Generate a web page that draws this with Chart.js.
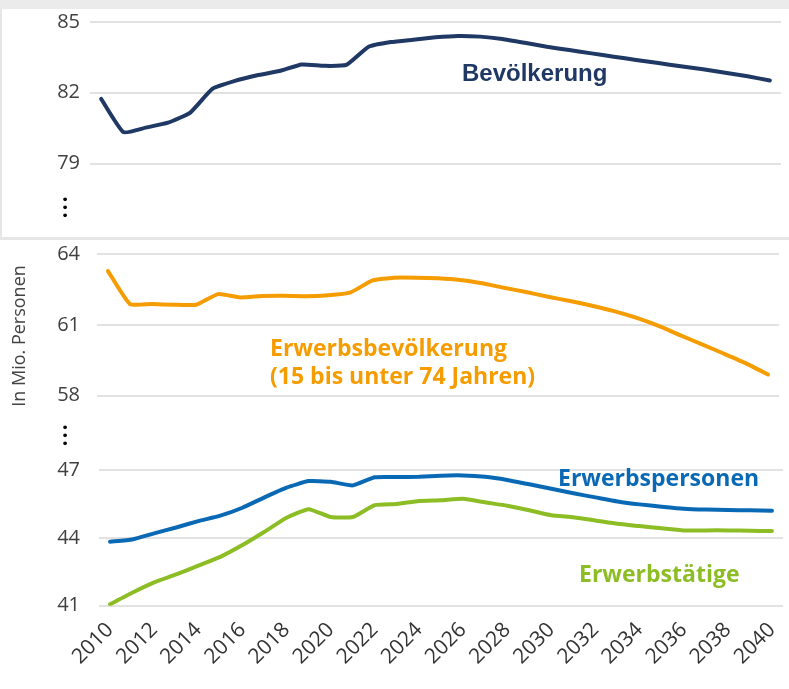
<!DOCTYPE html>
<html>
<head>
<meta charset="utf-8">
<script src="https://cdn.jsdelivr.net/npm/chart.js@4.4.1/dist/chart.umd.min.js"></script>
<style>
  body { margin: 0; background: #fff; }
  #wrap { position: relative; width: 789px; height: 689px; overflow: hidden; font-family: "Open Sans", sans-serif; }
  canvas { position: absolute; left: 0; }
  .band { position: absolute; left: 0; top: 0; width: 789px; height: 9px; background: #ebebeb; }
  .box { position: absolute; left: 0; top: 9px; width: 787px; height: 228px; border-left: 2px solid #e6e6e6; border-bottom: 3px solid #e6e6e6; }
  .lbl { position: absolute; font-weight: 700; white-space: nowrap; font-size: 23px; line-height: 28px; }
  .dots { position: absolute; width: 20px; text-align: center; font-family: "DejaVu Sans", sans-serif; font-size: 13px; line-height: 8px; color: #000; }
  .ytitle { position: absolute; left: -82px; top: 324px; width: 200px; text-align: center; font-size: 18px; line-height: 24px; color: #444; transform: rotate(-90deg); }
</style>
</head>
<body>
<div id="wrap">
  <div class="band"></div>
  <div class="box"></div>
  <canvas id="topChart" width="789" height="236" style="top:0"></canvas>
  <canvas id="midChart" width="789" height="180" style="top:240px"></canvas>
  <canvas id="botChart" width="789" height="269" style="top:420px"></canvas>

  <div class="lbl" style="left:462px;top:61px;font-family:'Liberation Sans',Arial,sans-serif;font-size:24px;line-height:24px;color:#1f3864">Bevölkerung</div>
  <div class="lbl" style="left:270px;top:333px;color:#f59c00">Erwerbsbevölkerung<br>(15 bis unter 74 Jahren)</div>
  <div class="lbl" style="left:558px;top:463px;color:#0a69b4">Erwerbspersonen</div>
  <div class="lbl" style="left:579px;top:559px;color:#8cbd24">Erwerbstätige</div>

  <div class="dots" style="left:55px;top:196px">•<br>•<br>•</div>
  <div class="dots" style="left:55px;top:424px">•<br>•<br>•</div>
  <div class="ytitle">In Mio. Personen</div>
</div>

<script>
const years = [];
for (let y = 2010; y <= 2040; y++) years.push(y);

// Bevölkerung, Mio.
const bevoelkerung = [81.74, 80.33, 80.52, 80.73, 81.16, 82.17, 82.5, 82.74, 82.92, 83.2,
  83.14, 83.18, 83.95, 84.15, 84.25, 84.35, 84.41, 84.38, 84.28, 84.12,
  83.95, 83.81, 83.67, 83.53, 83.39, 83.26, 83.12, 83.0, 82.85, 82.7, 82.52];

// Erwerbsbevölkerung (15 bis unter 74 Jahren)
const erwerbsbevoelkerung = [63.29, 61.89, 61.89, 61.86, 61.86, 62.31, 62.17, 62.23, 62.24, 62.22,
  62.26, 62.37, 62.88, 63.01, 63.01, 62.98, 62.91, 62.77, 62.58, 62.4,
  62.2, 62.02, 61.82, 61.59, 61.31, 60.97, 60.57, 60.18, 59.78, 59.37, 58.9];

const erwerbspersonen = [43.83, 43.93, 44.2, 44.46, 44.74, 44.98, 45.33, 45.79, 46.22, 46.51,
  46.48, 46.32, 46.68, 46.69, 46.7, 46.75, 46.76, 46.7, 46.56, 46.37,
  46.17, 45.97, 45.79, 45.61, 45.48, 45.38, 45.29, 45.25, 45.23, 45.22, 45.2];

const erwerbstaetige = [41.06, 41.57, 42.03, 42.38, 42.77, 43.16, 43.68, 44.27, 44.89, 45.27,
  44.92, 44.92, 45.45, 45.5, 45.63, 45.66, 45.73, 45.57, 45.42, 45.22,
  45.0, 44.91, 44.77, 44.62, 44.52, 44.42, 44.33, 44.33, 44.33, 44.31, 44.3];

const topTicks = [79, 82, 85];
const midTicks = [58, 61, 64];
const botTicks = [41, 44, 47];

function line(data, color) {
  return {
    data: data,
    borderColor: color,
    borderWidth: 4,
    pointRadius: 0,
    tension: 0.15,
    fill: false,
    borderCapStyle: 'round',
    borderJoinStyle: 'round'
  };
}

function makePanel(id, datasets, ticks, opts) {
  return new Chart(document.getElementById(id), {
    type: 'line',
    data: { labels: years, datasets: datasets },
    options: {
      responsive: false,
      animation: false,
      layout: { padding: { top: opts.top, bottom: opts.bottom, left: 0, right: opts.right } },
      plugins: { legend: { display: false }, tooltip: { enabled: false } },
      scales: {
        x: {
          type: 'category',
          offset: true,
          display: opts.showX,
          grid: { display: false },
          border: { display: false },
          ticks: {
            autoSkip: false,
            minRotation: 45,
            maxRotation: 45,
            padding: 4,
            color: '#333',
            font: { family: 'Open Sans', size: 21 },
            callback: (v, i) => (i % 2 === 0 ? String(years[i]) : '')
          },
          afterFit: s => {
            if (opts.xHeight) s.height = opts.xHeight;
            s.paddingLeft = 0; s.paddingRight = 0;
          }
        },
        y: {
          min: ticks[0],
          max: ticks[ticks.length - 1],
          border: { display: false },
          grid: { color: '#e2e2e2', lineWidth: 2, drawTicks: false },
          afterBuildTicks: s => { s.ticks = ticks.map(v => ({ value: v })); },
          afterFit: s => { s.width = opts.left; s.paddingTop = 0; s.paddingBottom = 0; },
          ticks: {
            padding: opts.left - 80,
            color: '#404040',
            font: { family: 'Open Sans', size: 20 }
          }
        }
      }
    }
  });
}

makePanel('topChart', [line(bevoelkerung, '#1f3864')], topTicks,
  { top: 22, bottom: 72.5, right: 8, left: 90, showX: false });

makePanel('midChart', [line(erwerbsbevoelkerung, '#f59c00')], midTicks,
  { top: 14.3, bottom: 24.3, right: 10, left: 97, showX: false });

makePanel('botChart', [line(erwerbspersonen, '#0a69b4'), line(erwerbstaetige, '#8cbd24')], botTicks,
  { top: 50, bottom: 0, right: 6, left: 99, showX: true, xHeight: 83.3 });
</script>
</body>
</html>
